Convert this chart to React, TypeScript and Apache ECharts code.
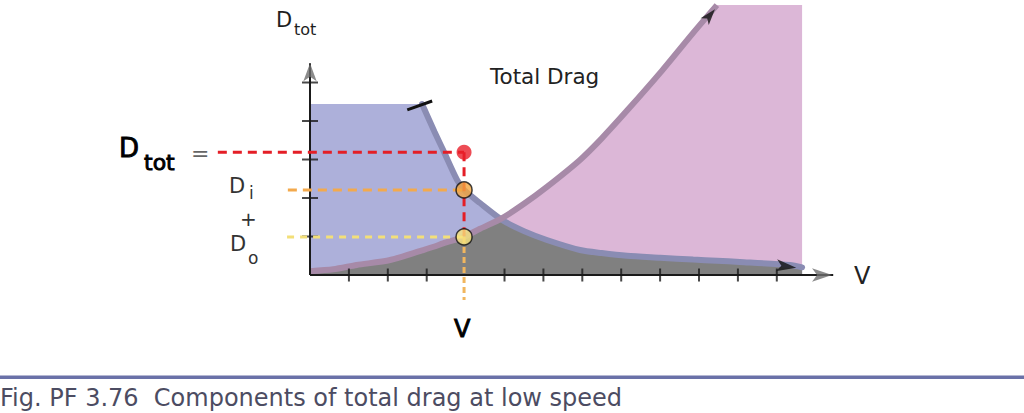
import React, { useEffect, useRef } from "react";
import * as echarts from "echarts";

// Airspeed samples (in tick units) and drag readings (in tick units)
const speed = [0, 0.6, 1.2, 2.06, 2.88, 3.2, 3.42, 3.78, 3.96, 4.37, 4.94, 5.5, 6.09, 6.94, 7.5, 8.15, 9.0, 9.85, 10.46, 11.05, 12.34, 12.65];
const profileDrag = [0.1, 0.15, 0.26, 0.39, 0.64, 0.74, 0.82, 0.93, 0.99, 1.2, 1.48, 1.85, 2.29, 2.99, 3.55, 4.27, 5.25, 6.29, 7.01, 7.01, 7.01, 7.01];
const inducedDrag = [4.44, 4.44, 4.44, 4.44, 4.44, 3.72, 3.25, 2.47, 2.21, 1.87, 1.43, 1.14, 0.91, 0.65, 0.57, 0.5, 0.45, 0.4, 0.37, 0.34, 0.26, 0.2];
const profileCurveEnd = 18; // index where profile drag curve reaches top
const inducedCurveStart = 4; // index where induced drag curve begins

const xTicks = [1, 2, 3, 5, 6, 7, 8, 9, 10, 11, 12];
const yTicks = [1, 2, 3, 4, 5];

const selSpeed = 3.96;
const selTotal = 3.19;
const selInduced = 2.21;
const selProfile = 0.99;

const caption = "Fig. PF 3.76  Components of total drag at low speed";

const X_MIN = -7.97;
const X_MAX = 18.355;
const Y_MIN = -3.584;
const Y_MAX = 7.143;

const FONT = "'DejaVu Sans', sans-serif";

export default function App() {
  const ref = useRef<HTMLDivElement>(null);
  useEffect(() => {
    if (!ref.current) return;
    const chart = echarts.init(ref.current, null, { renderer: "svg" });
    const pts = (ys: number[]) => speed.map((v, i) => [v, ys[i]]);
    const minDrag = speed.map((v, i) => [v, Math.min(profileDrag[i], inducedDrag[i])]);
    const sm = 0.25;
    const dash = (color: string, w: number, d: number[]) => ({ color, width: w, type: d });
    const lineS = (data: any, style: any, z: number, extra: any = {}) => ({
      type: "line",
      data,
      symbol: "none",
      silent: true,
      lineStyle: style,
      z,
      ...extra,
    });
    const txt = (text: string, x: number, y: number, size: number, extra: any = {}) => ({
      type: "text",
      x,
      y,
      style: {
        text,
        fontSize: size,
        fontFamily: FONT,
        fill: "#1e1e1e",
        verticalAlign: "middle",
        align: "left",
        ...extra,
      },
    });
    const semi = { fill: "#000", stroke: "#000", lineWidth: 0.9 };

    chart.setOption({
      animation: false,
      backgroundColor: "#ffffff",
      grid: { left: 0, right: 0, top: 0, bottom: 0 },
      xAxis: { type: "value", min: X_MIN, max: X_MAX, show: false },
      yAxis: { type: "value", min: Y_MIN, max: Y_MAX, show: false },
      series: [
        // pink area (profile drag region)
        lineS(pts(profileDrag), { width: 0 }, 1, { smooth: sm, areaStyle: { color: "#dcb7d7", opacity: 1 } }),
        // blue area (induced drag region)
        lineS(pts(inducedDrag), { width: 0 }, 2, { smooth: sm, areaStyle: { color: "#adb0da", opacity: 1 } }),
        // grey overlap
        lineS(minDrag, { width: 0 }, 3, { smooth: sm, areaStyle: { color: "#808080", opacity: 1 } }),
        // induced drag curve
        lineS(pts(inducedDrag).slice(inducedCurveStart), { color: "#8a8cb3", width: 6, cap: "round" }, 4, { smooth: sm }),
        // profile drag curve
        lineS(pts(profileDrag).slice(0, profileCurveEnd + 1), { color: "#a78aa8", width: 6 }, 5, { smooth: sm }),
        // black start mark on induced curve
        lineS([[2.5, 4.29], [3.14, 4.52]], { color: "#111", width: 3 }, 6),
        // axes
        lineS([[0, 0], [13.45, 0]], { color: "#1a1a1a", width: 2 }, 7),
        lineS([[0, 0], [0, 5.5]], { color: "#1a1a1a", width: 2 }, 7),
        {
          type: "scatter",
          silent: true,
          z: 8,
          symbol: "arrow",
          data: [
            { value: [13.42, 0], symbolSize: [10, 20], symbolRotate: -90, itemStyle: { color: "#6e6e6e" } },
            { value: [0, 5.5], symbolSize: [10, 18], symbolRotate: 0, itemStyle: { color: "#6e6e6e" } },
            { value: [12.5, 0.19], symbolSize: [9, 20], symbolRotate: -97, itemStyle: { color: "#111" } },
            { value: [10.41, 6.9], symbolSize: [8, 16], symbolRotate: -40, itemStyle: { color: "#111" } },
          ],
        },
        // ticks
        {
          type: "scatter",
          silent: true,
          z: 8,
          symbol: "rect",
          symbolSize: [2, 13],
          itemStyle: { color: "#1a1a1a" },
          data: xTicks.map((t) => [t, 0]),
        },
        {
          type: "scatter",
          silent: true,
          z: 8,
          symbol: "rect",
          symbolSize: [16, 2],
          itemStyle: { color: "#1a1a1a" },
          data: yTicks.map((t) => [0, t]),
        },
        // dashed guide lines
        lineS([[-2.37, selTotal], [selSpeed, selTotal]], dash("#e41e26", 3, [9, 6]), 9),
        lineS([[-0.57, selInduced], [selSpeed, selInduced]], dash("#f3a94c", 3, [9, 6]), 9),
        lineS([[-0.59, selProfile], [selSpeed, selProfile]], dash("#f3df78", 3, [7, 6]), 9),
        lineS([[selSpeed, selProfile], [selSpeed, -0.65]], dash("#f1b65e", 3, [6, 4]), 9),
        lineS([[selSpeed, selTotal], [selSpeed, selProfile]], dash("#e41e26", 3, [9, 6]), 9),
        // points
        {
          type: "scatter",
          silent: true,
          z: 10,
          symbol: "circle",
          data: [
            { value: [selSpeed, selTotal], symbolSize: 15, itemStyle: { color: "#e81f2a" } },
            { value: [selSpeed, selInduced], symbolSize: 16, itemStyle: { color: "#f4a640", borderColor: "#111", borderWidth: 1.5 } },
            { value: [selSpeed, selProfile], symbolSize: 16, itemStyle: { color: "#f7e37c", borderColor: "#111", borderWidth: 1.5 } },
          ],
        },
      ],
      graphic: [
        txt("D", 276, 20, 21),
        txt("tot", 294, 29, 16),
        txt("D", 119, 148, 26, semi),
        txt("tot", 144, 162, 22, semi),
        txt("=", 191, 153, 22, { fill: "#666" }),
        txt("D", 229, 186, 21, { fill: "#333" }),
        txt("i", 249, 193, 17, { fill: "#333" }),
        txt("+", 240, 219, 20, { fill: "#333" }),
        txt("D", 230, 244, 21, { fill: "#333" }),
        txt("o", 248, 258, 17, { fill: "#333" }),
        txt("Total Drag", 490, 76, 21.5, { fill: "#222" }),
        txt("V", 854, 276, 24, { fill: "#222" }),
        txt("V", 454, 329, 24, semi),
        {
          type: "rect",
          shape: { x: 0, y: 375.5, width: 1024, height: 3.5 },
          style: { fill: "#6a71a8" },
        },
        txt(caption, 0, 398, 24, { fill: "#4c4c62" }),
      ],
    });
    return () => chart.dispose();
  }, []);
  return (
    <div
      ref={ref}
      style={{ position: "fixed", left: 0, top: 0, width: 1024, height: 413, background: "#fff" }}
    />
  );
}
